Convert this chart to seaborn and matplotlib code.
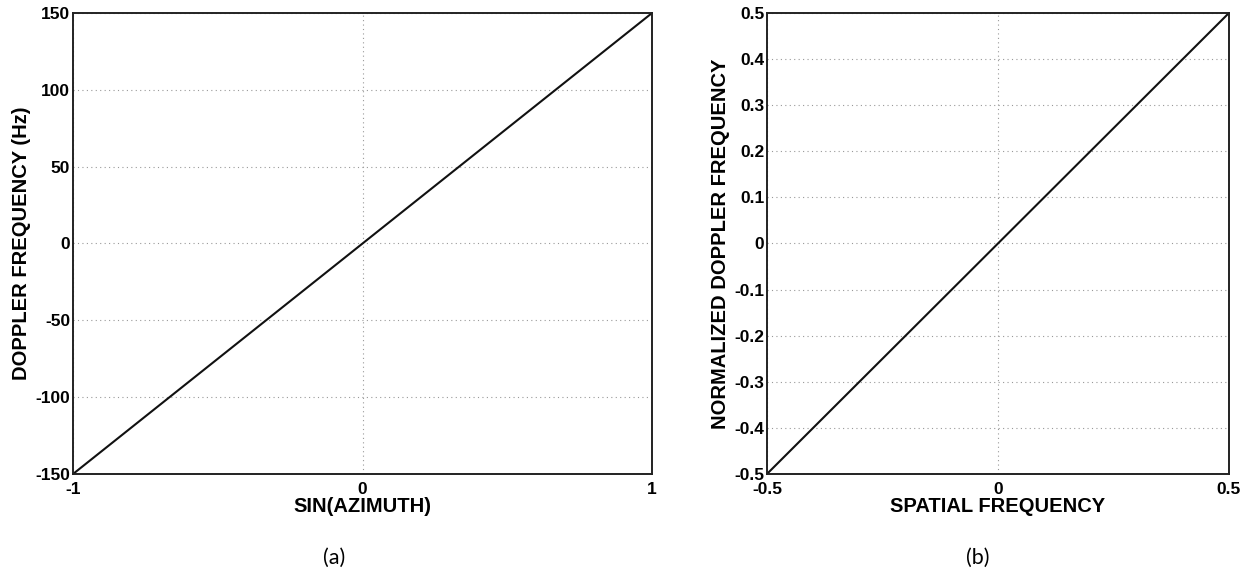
import numpy as np
import pandas as pd
import matplotlib
matplotlib.use("Agg")
import matplotlib.pyplot as plt
import seaborn as sns

# panel (a): Doppler frequency vs sin(azimuth)
sin_az = [-1.0, 1.0]
doppler_hz = [-150.0, 150.0]
a_xticks = [-1, 0, 1]
a_yticks = [-150, -100, -50, 0, 50, 100, 150]

# panel (b): normalized Doppler vs spatial frequency
spatial_freq = [-0.5, 0.5]
norm_doppler = [-0.5, 0.5]
b_xticks = [-0.5, 0, 0.5]
b_yticks = [-0.5, -0.4, -0.3, -0.2, -0.1, 0, 0.1, 0.2, 0.3, 0.4, 0.5]

sns.set_style("white")
plt.rcParams['font.family'] = ['Liberation Sans', 'DejaVu Sans']
plt.rcParams['text.color'] = 'black'
plt.rcParams['axes.labelcolor'] = 'black'

fig = plt.figure(figsize=(12.53, 5.75), dpi=100)
ax1 = fig.add_axes([0.0583, 0.1757, 0.4621, 0.8017])
ax2 = fig.add_axes([0.6121, 0.1757, 0.3687, 0.8017])


def style_axis(ax, xticks, yticks, xlabel, ylabel):
    ax.set_xticks(xticks)
    ax.set_yticks(yticks)
    ax.set_xticklabels([f"{t:g}" for t in xticks], fontweight='bold', fontsize=12.5)
    ax.set_yticklabels([f"{t:g}" for t in yticks], fontweight='bold', fontsize=12.5)
    ax.tick_params(direction='in', length=5, width=0.9, colors='black', labelcolor='black')
    ax.tick_params(axis='y', pad=2)
    ax.tick_params(axis='x', pad=6)
    ax.grid(True, linestyle=(0, (1, 3)), color='#999999', linewidth=0.8)
    for s in ax.spines.values():
        s.set_color('#222222')
        s.set_linewidth(1.4)
    ax.set_xlabel(xlabel, fontweight='bold', fontsize=14.5, labelpad=0, color='black')
    ax.set_ylabel(ylabel, fontweight='bold', fontsize=14.5, labelpad=3, color='black')


df_a = pd.DataFrame({"x": sin_az, "y": doppler_hz})
sns.lineplot(data=df_a, x="x", y="y", ax=ax1, color='#111111', linewidth=1.5)
ax1.set_xlim(-1, 1)
ax1.set_ylim(-150, 150)
style_axis(ax1, a_xticks, a_yticks, "SIN(AZIMUTH)", "DOPPLER FREQUENCY (Hz)")

df_b = pd.DataFrame({"x": spatial_freq, "y": norm_doppler})
sns.lineplot(data=df_b, x="x", y="y", ax=ax2, color='#111111', linewidth=1.5)
ax2.set_xlim(-0.5, 0.5)
ax2.set_ylim(-0.5, 0.5)
style_axis(ax2, b_xticks, b_yticks, "SPATIAL FREQUENCY", "NORMALIZED DOPPLER FREQUENCY")

fig.text(0.2666, 0.0296, "(a)", ha='center', va='center', fontsize=15.5, color='black',
         family=['Lato', 'DejaVu Sans'])
fig.text(0.7805, 0.0296, "(b)", ha='center', va='center', fontsize=15.5, color='black',
         family=['Lato', 'DejaVu Sans'])

fig.savefig("out.png", dpi=100)
